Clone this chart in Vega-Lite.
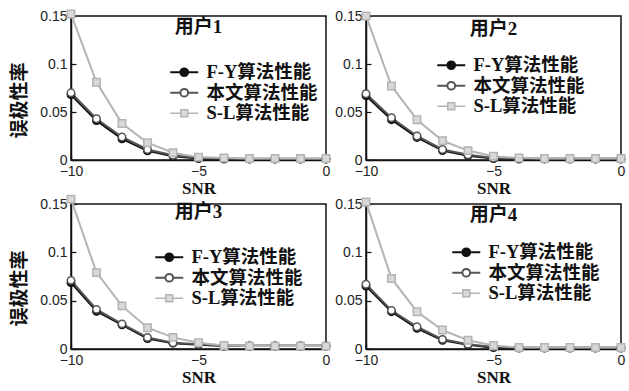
{
  "$schema": "https://vega.github.io/schema/vega-lite/v6.json",
  "padding": {"left": 10, "top": 6, "right": 4, "bottom": 2},
  "background": "white",
  "data": {"values": [
    {"u":"用户1","s":"F-Y算法性能","x":-10,"y":0.068},{"u":"用户1","s":"F-Y算法性能","x":-9,"y":0.041},{"u":"用户1","s":"F-Y算法性能","x":-8,"y":0.022},{"u":"用户1","s":"F-Y算法性能","x":-7,"y":0.0095},{"u":"用户1","s":"F-Y算法性能","x":-6,"y":0.004},{"u":"用户1","s":"F-Y算法性能","x":-5,"y":0.0015},{"u":"用户1","s":"F-Y算法性能","x":-4,"y":0.001},{"u":"用户1","s":"F-Y算法性能","x":-3,"y":0.001},{"u":"用户1","s":"F-Y算法性能","x":-2,"y":0.001},{"u":"用户1","s":"F-Y算法性能","x":-1,"y":0.001},{"u":"用户1","s":"F-Y算法性能","x":0,"y":0.001},
    {"u":"用户1","s":"本文算法性能","x":-10,"y":0.07},{"u":"用户1","s":"本文算法性能","x":-9,"y":0.043},{"u":"用户1","s":"本文算法性能","x":-8,"y":0.024},{"u":"用户1","s":"本文算法性能","x":-7,"y":0.011},{"u":"用户1","s":"本文算法性能","x":-6,"y":0.005},{"u":"用户1","s":"本文算法性能","x":-5,"y":0.002},{"u":"用户1","s":"本文算法性能","x":-4,"y":0.0015},{"u":"用户1","s":"本文算法性能","x":-3,"y":0.0012},{"u":"用户1","s":"本文算法性能","x":-2,"y":0.0012},{"u":"用户1","s":"本文算法性能","x":-1,"y":0.0012},{"u":"用户1","s":"本文算法性能","x":0,"y":0.0012},
    {"u":"用户1","s":"S-L算法性能","x":-10,"y":0.152},{"u":"用户1","s":"S-L算法性能","x":-9,"y":0.081},{"u":"用户1","s":"S-L算法性能","x":-8,"y":0.038},{"u":"用户1","s":"S-L算法性能","x":-7,"y":0.018},{"u":"用户1","s":"S-L算法性能","x":-6,"y":0.0075},{"u":"用户1","s":"S-L算法性能","x":-5,"y":0.003},{"u":"用户1","s":"S-L算法性能","x":-4,"y":0.002},{"u":"用户1","s":"S-L算法性能","x":-3,"y":0.0015},{"u":"用户1","s":"S-L算法性能","x":-2,"y":0.0015},{"u":"用户1","s":"S-L算法性能","x":-1,"y":0.0015},{"u":"用户1","s":"S-L算法性能","x":0,"y":0.0015},
    {"u":"用户2","s":"F-Y算法性能","x":-10,"y":0.067},{"u":"用户2","s":"F-Y算法性能","x":-9,"y":0.042},{"u":"用户2","s":"F-Y算法性能","x":-8,"y":0.0235},{"u":"用户2","s":"F-Y算法性能","x":-7,"y":0.0098},{"u":"用户2","s":"F-Y算法性能","x":-6,"y":0.0045},{"u":"用户2","s":"F-Y算法性能","x":-5,"y":0.0015},{"u":"用户2","s":"F-Y算法性能","x":-4,"y":0.001},{"u":"用户2","s":"F-Y算法性能","x":-3,"y":0.001},{"u":"用户2","s":"F-Y算法性能","x":-2,"y":0.001},{"u":"用户2","s":"F-Y算法性能","x":-1,"y":0.001},{"u":"用户2","s":"F-Y算法性能","x":0,"y":0.001},
    {"u":"用户2","s":"本文算法性能","x":-10,"y":0.069},{"u":"用户2","s":"本文算法性能","x":-9,"y":0.044},{"u":"用户2","s":"本文算法性能","x":-8,"y":0.025},{"u":"用户2","s":"本文算法性能","x":-7,"y":0.011},{"u":"用户2","s":"本文算法性能","x":-6,"y":0.0055},{"u":"用户2","s":"本文算法性能","x":-5,"y":0.002},{"u":"用户2","s":"本文算法性能","x":-4,"y":0.0015},{"u":"用户2","s":"本文算法性能","x":-3,"y":0.0015},{"u":"用户2","s":"本文算法性能","x":-2,"y":0.0015},{"u":"用户2","s":"本文算法性能","x":-1,"y":0.0015},{"u":"用户2","s":"本文算法性能","x":0,"y":0.0015},
    {"u":"用户2","s":"S-L算法性能","x":-10,"y":0.15},{"u":"用户2","s":"S-L算法性能","x":-9,"y":0.077},{"u":"用户2","s":"S-L算法性能","x":-8,"y":0.042},{"u":"用户2","s":"S-L算法性能","x":-7,"y":0.02},{"u":"用户2","s":"S-L算法性能","x":-6,"y":0.0098},{"u":"用户2","s":"S-L算法性能","x":-5,"y":0.004},{"u":"用户2","s":"S-L算法性能","x":-4,"y":0.002},{"u":"用户2","s":"S-L算法性能","x":-3,"y":0.0015},{"u":"用户2","s":"S-L算法性能","x":-2,"y":0.0015},{"u":"用户2","s":"S-L算法性能","x":-1,"y":0.0015},{"u":"用户2","s":"S-L算法性能","x":0,"y":0.0015},
    {"u":"用户3","s":"F-Y算法性能","x":-10,"y":0.0686},{"u":"用户3","s":"F-Y算法性能","x":-9,"y":0.039},{"u":"用户3","s":"F-Y算法性能","x":-8,"y":0.025},{"u":"用户3","s":"F-Y算法性能","x":-7,"y":0.0107},{"u":"用户3","s":"F-Y算法性能","x":-6,"y":0.006},{"u":"用户3","s":"F-Y算法性能","x":-5,"y":0.0043},{"u":"用户3","s":"F-Y算法性能","x":-4,"y":0.003},{"u":"用户3","s":"F-Y算法性能","x":-3,"y":0.003},{"u":"用户3","s":"F-Y算法性能","x":-2,"y":0.003},{"u":"用户3","s":"F-Y算法性能","x":-1,"y":0.003},{"u":"用户3","s":"F-Y算法性能","x":0,"y":0.003},
    {"u":"用户3","s":"本文算法性能","x":-10,"y":0.071},{"u":"用户3","s":"本文算法性能","x":-9,"y":0.041},{"u":"用户3","s":"本文算法性能","x":-8,"y":0.026},{"u":"用户3","s":"本文算法性能","x":-7,"y":0.012},{"u":"用户3","s":"本文算法性能","x":-6,"y":0.0065},{"u":"用户3","s":"本文算法性能","x":-5,"y":0.0048},{"u":"用户3","s":"本文算法性能","x":-4,"y":0.0035},{"u":"用户3","s":"本文算法性能","x":-3,"y":0.0035},{"u":"用户3","s":"本文算法性能","x":-2,"y":0.0035},{"u":"用户3","s":"本文算法性能","x":-1,"y":0.0035},{"u":"用户3","s":"本文算法性能","x":0,"y":0.0035},
    {"u":"用户3","s":"S-L算法性能","x":-10,"y":0.155},{"u":"用户3","s":"S-L算法性能","x":-9,"y":0.079},{"u":"用户3","s":"S-L算法性能","x":-8,"y":0.0446},{"u":"用户3","s":"S-L算法性能","x":-7,"y":0.022},{"u":"用户3","s":"S-L算法性能","x":-6,"y":0.012},{"u":"用户3","s":"S-L算法性能","x":-5,"y":0.0064},{"u":"用户3","s":"S-L算法性能","x":-4,"y":0.0036},{"u":"用户3","s":"S-L算法性能","x":-3,"y":0.003},{"u":"用户3","s":"S-L算法性能","x":-2,"y":0.003},{"u":"用户3","s":"S-L算法性能","x":-1,"y":0.003},{"u":"用户3","s":"S-L算法性能","x":0,"y":0.003},
    {"u":"用户4","s":"F-Y算法性能","x":-10,"y":0.065},{"u":"用户4","s":"F-Y算法性能","x":-9,"y":0.0386},{"u":"用户4","s":"F-Y算法性能","x":-8,"y":0.0214},{"u":"用户4","s":"F-Y算法性能","x":-7,"y":0.009},{"u":"用户4","s":"F-Y算法性能","x":-6,"y":0.0043},{"u":"用户4","s":"F-Y算法性能","x":-5,"y":0.0014},{"u":"用户4","s":"F-Y算法性能","x":-4,"y":0.001},{"u":"用户4","s":"F-Y算法性能","x":-3,"y":0.001},{"u":"用户4","s":"F-Y算法性能","x":-2,"y":0.001},{"u":"用户4","s":"F-Y算法性能","x":-1,"y":0.001},{"u":"用户4","s":"F-Y算法性能","x":0,"y":0.001},
    {"u":"用户4","s":"本文算法性能","x":-10,"y":0.067},{"u":"用户4","s":"本文算法性能","x":-9,"y":0.04},{"u":"用户4","s":"本文算法性能","x":-8,"y":0.023},{"u":"用户4","s":"本文算法性能","x":-7,"y":0.01},{"u":"用户4","s":"本文算法性能","x":-6,"y":0.005},{"u":"用户4","s":"本文算法性能","x":-5,"y":0.002},{"u":"用户4","s":"本文算法性能","x":-4,"y":0.0015},{"u":"用户4","s":"本文算法性能","x":-3,"y":0.0015},{"u":"用户4","s":"本文算法性能","x":-2,"y":0.0015},{"u":"用户4","s":"本文算法性能","x":-1,"y":0.0015},{"u":"用户4","s":"本文算法性能","x":0,"y":0.0015},
    {"u":"用户4","s":"S-L算法性能","x":-10,"y":0.152},{"u":"用户4","s":"S-L算法性能","x":-9,"y":0.073},{"u":"用户4","s":"S-L算法性能","x":-8,"y":0.0386},{"u":"用户4","s":"S-L算法性能","x":-7,"y":0.0196},{"u":"用户4","s":"S-L算法性能","x":-6,"y":0.009},{"u":"用户4","s":"S-L算法性能","x":-5,"y":0.0036},{"u":"用户4","s":"S-L算法性能","x":-4,"y":0.0015},{"u":"用户4","s":"S-L算法性能","x":-3,"y":0.0015},{"u":"用户4","s":"S-L算法性能","x":-2,"y":0.0015},{"u":"用户4","s":"S-L算法性能","x":-1,"y":0.0015},{"u":"用户4","s":"S-L算法性能","x":0,"y":0.0015}
  ]},
  "columns": 2,
  "spacing": {"row": -6, "column": 0},
  "resolve": {"legend": {"color": "independent"}},
  "concat": [
    {
      "width": 255, "height": 144,
      "title": {"text": "用户1", "offset": -30},
      "transform": [{"filter": "datum.u === '用户1'"}],
      "encoding": {
        "x": {"field": "x", "type": "quantitative", "scale": {"domain": [-10, 0]}, "axis": {"values": [-10, -5, 0], "title": "SNR"}},
        "y": {"field": "y", "type": "quantitative", "scale": {"domain": [0, 0.15]}, "axis": {"values": [0, 0.05, 0.1, 0.15], "format": ".2~f", "title": "误极性率"}}
      },
      "layer": [
        {"mark": {"type": "line", "clip": false},
         "encoding": {
           "color": {"field": "s", "type": "nominal", "scale": {"domain": ["F-Y算法性能", "本文算法性能", "S-L算法性能"], "range": ["#111111", "#555555", "#b4b4b4"]},
             "legend": {"orient": "none", "legendX": 104, "legendY": 47, "title": null,
               "encode": {"symbols": {"update": {
                 "shape": {"signal": "datum.value === 'F-Y算法性能' ? 'M-2,0H2M-0.55,0A0.55,0.55 0 1 0 0.55,0A0.55,0.55 0 1 0 -0.55,0Z' : datum.value === '本文算法性能' ? 'M-2,0H-0.55M0.55,0H2M-0.55,0A0.55,0.55 0 1 0 0.55,0A0.55,0.55 0 1 0 -0.55,0Z' : 'M-2,0H-0.5M0.5,0H2M-0.5,-0.5H0.5V0.5H-0.5Z'"},
                 "fill": {"signal": "datum.value === 'F-Y算法性能' ? '#111111' : datum.value === '本文算法性能' ? '#ffffff' : '#d8d8d8'"},
                 "strokeWidth": {"signal": "datum.value === 'S-L算法性能' ? 1.5 : 2"},
                 "opacity": {"value": 1}}}}}},
           "strokeWidth": {"field": "s", "type": "nominal", "scale": {"domain": ["F-Y算法性能", "本文算法性能", "S-L算法性能"], "range": [2, 2, 1.3]}, "legend": null}
         }},
        {"mark": {"type": "point", "filled": false, "opacity": 1, "strokeWidth": 1.5, "size": 55, "clip": false},
         "encoding": {
           "color": {"field": "s", "type": "nominal"},
           "shape": {"field": "s", "type": "nominal", "scale": {"domain": ["F-Y算法性能", "本文算法性能", "S-L算法性能"], "range": ["circle", "circle", "square"]}, "legend": null},
           "fill": {"field": "s", "type": "nominal", "scale": {"domain": ["F-Y算法性能", "本文算法性能", "S-L算法性能"], "range": ["#111111", "#ffffff", "#d8d8d8"]}, "legend": null}
         }}
      ]
    },
    {
      "width": 255, "height": 144,
      "title": {"text": "用户2", "offset": -30},
      "transform": [{"filter": "datum.u === '用户2'"}],
      "encoding": {
        "x": {"field": "x", "type": "quantitative", "scale": {"domain": [-10, 0]}, "axis": {"values": [-10, -5, 0], "title": "SNR"}},
        "y": {"field": "y", "type": "quantitative", "scale": {"domain": [0, 0.15]}, "axis": {"values": [0, 0.05, 0.1, 0.15], "format": ".2~f", "title": null}}
      },
      "layer": [
        {"mark": {"type": "line", "clip": false},
         "encoding": {
           "color": {"field": "s", "type": "nominal", "scale": {"domain": ["F-Y算法性能", "本文算法性能", "S-L算法性能"], "range": ["#111111", "#555555", "#b4b4b4"]},
             "legend": {"orient": "none", "legendX": 76, "legendY": 40, "title": null,
               "encode": {"symbols": {"update": {
                 "shape": {"signal": "datum.value === 'F-Y算法性能' ? 'M-2,0H2M-0.55,0A0.55,0.55 0 1 0 0.55,0A0.55,0.55 0 1 0 -0.55,0Z' : datum.value === '本文算法性能' ? 'M-2,0H-0.55M0.55,0H2M-0.55,0A0.55,0.55 0 1 0 0.55,0A0.55,0.55 0 1 0 -0.55,0Z' : 'M-2,0H-0.5M0.5,0H2M-0.5,-0.5H0.5V0.5H-0.5Z'"},
                 "fill": {"signal": "datum.value === 'F-Y算法性能' ? '#111111' : datum.value === '本文算法性能' ? '#ffffff' : '#d8d8d8'"},
                 "strokeWidth": {"signal": "datum.value === 'S-L算法性能' ? 1.5 : 2"},
                 "opacity": {"value": 1}}}}}},
           "strokeWidth": {"field": "s", "type": "nominal", "scale": {"domain": ["F-Y算法性能", "本文算法性能", "S-L算法性能"], "range": [2, 2, 1.3]}, "legend": null}
         }},
        {"mark": {"type": "point", "filled": false, "opacity": 1, "strokeWidth": 1.5, "size": 55, "clip": false},
         "encoding": {
           "color": {"field": "s", "type": "nominal"},
           "shape": {"field": "s", "type": "nominal", "scale": {"domain": ["F-Y算法性能", "本文算法性能", "S-L算法性能"], "range": ["circle", "circle", "square"]}, "legend": null},
           "fill": {"field": "s", "type": "nominal", "scale": {"domain": ["F-Y算法性能", "本文算法性能", "S-L算法性能"], "range": ["#111111", "#ffffff", "#d8d8d8"]}, "legend": null}
         }}
      ]
    },
    {
      "width": 255, "height": 145,
      "title": {"text": "用户3", "offset": -30},
      "transform": [{"filter": "datum.u === '用户3'"}],
      "encoding": {
        "x": {"field": "x", "type": "quantitative", "scale": {"domain": [-10, 0]}, "axis": {"values": [-10, -5, 0], "title": "SNR"}},
        "y": {"field": "y", "type": "quantitative", "scale": {"domain": [0, 0.15]}, "axis": {"values": [0, 0.05, 0.1, 0.15], "format": ".2~f", "title": "误极性率"}}
      },
      "layer": [
        {"mark": {"type": "line", "clip": false},
         "encoding": {
           "color": {"field": "s", "type": "nominal", "scale": {"domain": ["F-Y算法性能", "本文算法性能", "S-L算法性能"], "range": ["#111111", "#555555", "#b4b4b4"]},
             "legend": {"orient": "none", "legendX": 89, "legendY": 44, "title": null,
               "encode": {"symbols": {"update": {
                 "shape": {"signal": "datum.value === 'F-Y算法性能' ? 'M-2,0H2M-0.55,0A0.55,0.55 0 1 0 0.55,0A0.55,0.55 0 1 0 -0.55,0Z' : datum.value === '本文算法性能' ? 'M-2,0H-0.55M0.55,0H2M-0.55,0A0.55,0.55 0 1 0 0.55,0A0.55,0.55 0 1 0 -0.55,0Z' : 'M-2,0H-0.5M0.5,0H2M-0.5,-0.5H0.5V0.5H-0.5Z'"},
                 "fill": {"signal": "datum.value === 'F-Y算法性能' ? '#111111' : datum.value === '本文算法性能' ? '#ffffff' : '#d8d8d8'"},
                 "strokeWidth": {"signal": "datum.value === 'S-L算法性能' ? 1.5 : 2"},
                 "opacity": {"value": 1}}}}}},
           "strokeWidth": {"field": "s", "type": "nominal", "scale": {"domain": ["F-Y算法性能", "本文算法性能", "S-L算法性能"], "range": [2, 2, 1.3]}, "legend": null}
         }},
        {"mark": {"type": "point", "filled": false, "opacity": 1, "strokeWidth": 1.5, "size": 55, "clip": false},
         "encoding": {
           "color": {"field": "s", "type": "nominal"},
           "shape": {"field": "s", "type": "nominal", "scale": {"domain": ["F-Y算法性能", "本文算法性能", "S-L算法性能"], "range": ["circle", "circle", "square"]}, "legend": null},
           "fill": {"field": "s", "type": "nominal", "scale": {"domain": ["F-Y算法性能", "本文算法性能", "S-L算法性能"], "range": ["#111111", "#ffffff", "#d8d8d8"]}, "legend": null}
         }}
      ]
    },
    {
      "width": 255, "height": 145,
      "title": {"text": "用户4", "offset": -30},
      "transform": [{"filter": "datum.u === '用户4'"}],
      "encoding": {
        "x": {"field": "x", "type": "quantitative", "scale": {"domain": [-10, 0]}, "axis": {"values": [-10, -5, 0], "title": "SNR"}},
        "y": {"field": "y", "type": "quantitative", "scale": {"domain": [0, 0.15]}, "axis": {"values": [0, 0.05, 0.1, 0.15], "format": ".2~f", "title": null}}
      },
      "layer": [
        {"mark": {"type": "line", "clip": false},
         "encoding": {
           "color": {"field": "s", "type": "nominal", "scale": {"domain": ["F-Y算法性能", "本文算法性能", "S-L算法性能"], "range": ["#111111", "#555555", "#b4b4b4"]},
             "legend": {"orient": "none", "legendX": 91, "legendY": 39, "title": null,
               "encode": {"symbols": {"update": {
                 "shape": {"signal": "datum.value === 'F-Y算法性能' ? 'M-2,0H2M-0.55,0A0.55,0.55 0 1 0 0.55,0A0.55,0.55 0 1 0 -0.55,0Z' : datum.value === '本文算法性能' ? 'M-2,0H-0.55M0.55,0H2M-0.55,0A0.55,0.55 0 1 0 0.55,0A0.55,0.55 0 1 0 -0.55,0Z' : 'M-2,0H-0.5M0.5,0H2M-0.5,-0.5H0.5V0.5H-0.5Z'"},
                 "fill": {"signal": "datum.value === 'F-Y算法性能' ? '#111111' : datum.value === '本文算法性能' ? '#ffffff' : '#d8d8d8'"},
                 "strokeWidth": {"signal": "datum.value === 'S-L算法性能' ? 1.5 : 2"},
                 "opacity": {"value": 1}}}}}},
           "strokeWidth": {"field": "s", "type": "nominal", "scale": {"domain": ["F-Y算法性能", "本文算法性能", "S-L算法性能"], "range": [2, 2, 1.3]}, "legend": null}
         }},
        {"mark": {"type": "point", "filled": false, "opacity": 1, "strokeWidth": 1.5, "size": 55, "clip": false},
         "encoding": {
           "color": {"field": "s", "type": "nominal"},
           "shape": {"field": "s", "type": "nominal", "scale": {"domain": ["F-Y算法性能", "本文算法性能", "S-L算法性能"], "range": ["circle", "circle", "square"]}, "legend": null},
           "fill": {"field": "s", "type": "nominal", "scale": {"domain": ["F-Y算法性能", "本文算法性能", "S-L算法性能"], "range": ["#111111", "#ffffff", "#d8d8d8"]}, "legend": null}
         }}
      ]
    }
  ],
  "config": {
    "view": {"stroke": "#111111", "strokeWidth": 1.5},
    "axis": {"grid": false, "labelFont": "Liberation Sans", "labelFontSize": 14, "labelColor": "#222222", "labelFlush": false,
      "domainColor": "#111111", "domainWidth": 1.5, "tickColor": "#111111", "tickSize": -5, "tickWidth": 1.2,
      "titleColor": "#111111", "titleFontWeight": "bold"},
    "axisX": {"labelPadding": 9, "titlePadding": 2, "titleFont": "Liberation Serif", "titleFontSize": 17},
    "axisY": {"labelPadding": 9, "titlePadding": 10, "titleFont": "Noto Sans CJK SC", "titleFontSize": 19, "titleY": 84},
    "title": {"font": "Liberation Serif, Noto Sans CJK SC", "fontSize": 19, "fontWeight": "bold", "color": "#111111", "anchor": "middle", "frame": "group"},
    "legend": {"labelFont": "Liberation Serif, Noto Sans CJK SC", "labelFontSize": 18.5, "labelFontWeight": "bold", "labelColor": "#111111",
      "symbolSize": 196, "labelOffset": 13, "rowPadding": 1.5, "padding": 0, "symbolStrokeWidth": 2}
  }
}
